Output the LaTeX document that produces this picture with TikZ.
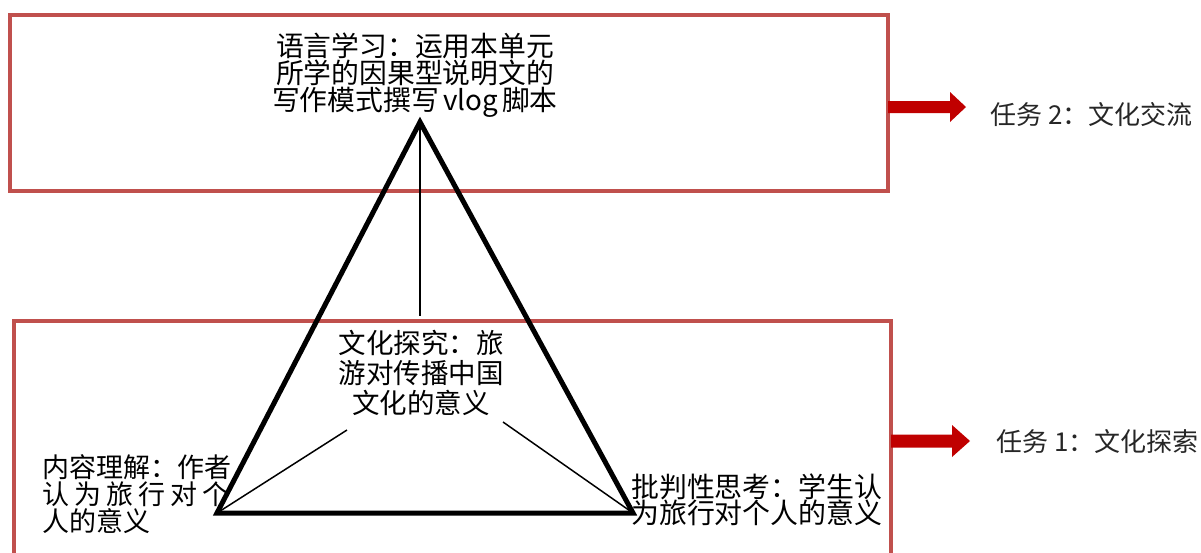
\documentclass[tikz,border=0pt]{standalone}
\usepackage{fontspec}
\setmainfont{Noto Sans CJK SC}
\definecolor{boxred}{HTML}{C0504D}
\definecolor{arrowred}{HTML}{C00000}
\begin{document}
\begin{tikzpicture}[x=1pt,y=-1pt,
  box/.style={draw=boxred, line width=4pt},
  tri/.style={line width=5pt, line join=miter},
  thinline/.style={line width=1.5pt},
  txt/.style={inner sep=0pt, text=black},
  task/.style={inner sep=0pt, anchor=west, font=\fontsize{26}{30}\selectfont, text=black!85},
  bigarrow/.style={fill=arrowred}]
\useasboundingbox (0,0) rectangle (1201,552);
% boxes
\draw[box] (10,15) rectangle (888,191);
\draw[box] (14,321) rectangle (891,556);
\coordinate (tboxE) at (888,107);
\coordinate (bboxE) at (891,441);
% arrows
\fill[bigarrow] (tboxE) ++(0,-6) -- ++(62,0) -- ++(0,-9) -- ++(16,15) -- ++(-16,15) -- ++(0,-9) -- ++(-62,0) -- cycle;
\fill[bigarrow] (bboxE) ++(0,-6.5) -- ++(61,0) -- ++(0,-9.5) -- ++(18,16) -- ++(-18,16) -- ++(0,-9.5) -- ++(-61,0) -- cycle;
% task labels
\node[task] (t2) at (990,115) {任务 2：文化交流};
\node[task] (t1) at (996,442) {任务 1：文化探索};
% triangle
\coordinate (A) at (420,122);
\coordinate (B) at (217,513);
\coordinate (C) at (633,513);
\draw[tri] (A) -- (B) -- (C) -- cycle;
% texts
\node[txt, align=center, font=\fontsize{27.8}{27}\selectfont] (lang) at (415,75)
  {语言学习：运用本单元\\所学的因果型说明文的\\写作模式撰写\hspace{0.15em}vlog\hspace{0.15em}脚本};
\node[txt, align=center, font=\fontsize{27.5}{30}\selectfont] (cult) at (421,373)
  {文化探究：旅\\游对传播中国\\文化的意义};
\node[txt, align=left, anchor=west, font=\fontsize{27}{27}\selectfont] (cont) at (42,494)
  {内容理解：作者\\\hbox to 6.95em{认\hfill 为\hfill 旅\hfill 行\hfill 对\hfill 个}\\人的意义};
\node[txt, align=left, anchor=west, font=\fontsize{27.9}{26.5}\selectfont] (crit) at (631,500)
  {批判性思考：学生认\\为旅行对个人的意义};
% connectors to the centre text
\coordinate (cA) at (420,316);
\coordinate (cB) at (347,430);
\coordinate (cC) at (503,422);
\draw[thinline] (A) -- (cA);
\draw[thinline] (B) -- (cB);
\draw[thinline] (C) -- (cC);
\end{tikzpicture}
\end{document}
